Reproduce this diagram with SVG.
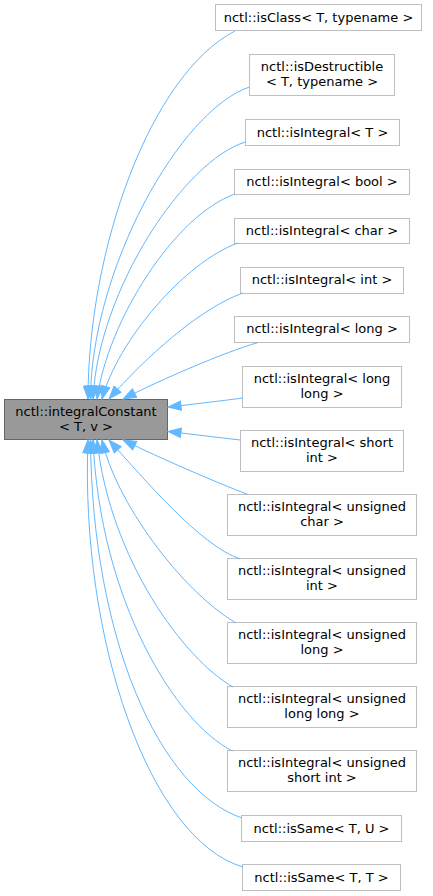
<svg xmlns="http://www.w3.org/2000/svg" width="433" height="896" viewBox="0 0 433 896">
<style>
.n rect{fill:#ffffff;stroke:#bfbfbf;stroke-width:1}
.m rect{fill:#999999;stroke:#666666;stroke-width:1}
text{font-family:"DejaVu Sans","Liberation Sans",sans-serif;font-size:13px;fill:#000000;text-anchor:middle}
.e path{fill:none;stroke:#63b8ff;stroke-width:1;marker-end:url(#ah)}
</style>
<defs>
<marker id="ah" markerUnits="userSpaceOnUse" markerWidth="16" markerHeight="12" refX="13.5" refY="5" orient="auto" overflow="visible">
<path d="M0.5,0.3 L13.5,5 L0.5,9.7 z" fill="#63b8ff" stroke="#63b8ff" stroke-width="1"/>
</marker>
</defs>
<rect width="433" height="896" fill="#ffffff"/>
<g id="node_main" class="m"><rect x="4.5" y="399.5" width="163" height="40"/><text x="86" y="415.8">nctl::integralConstant</text><text x="86" y="430.5">&lt; T, v &gt;</text></g>
<g id="node_isClass" class="n"><rect x="215.5" y="4.5" width="206" height="26"/><text x="318.5" y="21.5">nctl::isClass&lt; T, typename &gt;</text></g>
<g id="node_isDestructible" class="n"><rect x="249.5" y="54.5" width="145" height="41"/><text x="322" y="71.3">nctl::isDestructible</text><text x="322" y="86">&lt; T, typename &gt;</text></g>
<g id="node_isIntegral_T" class="n"><rect x="245.5" y="119.5" width="154" height="26"/><text x="322.5" y="136.5">nctl::isIntegral&lt; T &gt;</text></g>
<g id="node_isIntegral_bool" class="n"><rect x="234.5" y="169.5" width="175" height="25"/><text x="322" y="186">nctl::isIntegral&lt; bool &gt;</text></g>
<g id="node_isIntegral_char" class="n"><rect x="234.5" y="218.5" width="175" height="25"/><text x="322" y="235">nctl::isIntegral&lt; char &gt;</text></g>
<g id="node_isIntegral_int" class="n"><rect x="240.5" y="267.5" width="163" height="26"/><text x="322" y="284">nctl::isIntegral&lt; int &gt;</text></g>
<g id="node_isIntegral_long" class="n"><rect x="234.5" y="316.5" width="175" height="26"/><text x="322" y="333">nctl::isIntegral&lt; long &gt;</text></g>
<g id="node_isIntegral_longlong" class="n"><rect x="242.5" y="366.5" width="159" height="41"/><text x="322" y="383.3">nctl::isIntegral&lt; long</text><text x="322" y="398">long &gt;</text></g>
<g id="node_isIntegral_shortint" class="n"><rect x="240.5" y="430.5" width="163" height="41"/><text x="322" y="447.3">nctl::isIntegral&lt; short</text><text x="322" y="462">int &gt;</text></g>
<g id="node_isIntegral_uchar" class="n"><rect x="227.5" y="494.5" width="189" height="41"/><text x="322" y="511.3">nctl::isIntegral&lt; unsigned</text><text x="322" y="526">char &gt;</text></g>
<g id="node_isIntegral_uint" class="n"><rect x="227.5" y="558.5" width="189" height="41"/><text x="322" y="575.3">nctl::isIntegral&lt; unsigned</text><text x="322" y="590">int &gt;</text></g>
<g id="node_isIntegral_ulong" class="n"><rect x="227.5" y="622.5" width="189" height="41"/><text x="322" y="639.3">nctl::isIntegral&lt; unsigned</text><text x="322" y="654">long &gt;</text></g>
<g id="node_isIntegral_ulonglong" class="n"><rect x="227.5" y="686.5" width="189" height="41"/><text x="322" y="703.3">nctl::isIntegral&lt; unsigned</text><text x="322" y="718">long long &gt;</text></g>
<g id="node_isIntegral_ushortint" class="n"><rect x="227.5" y="750.5" width="189" height="41"/><text x="322" y="767.3">nctl::isIntegral&lt; unsigned</text><text x="322" y="782">short int &gt;</text></g>
<g id="node_isSame_TU" class="n"><rect x="241.5" y="815.5" width="160" height="26"/><text x="321.5" y="832.5">nctl::isSame&lt; T, U &gt;</text></g>
<g id="node_isSame_TT" class="n"><rect x="242.5" y="864.5" width="158" height="26"/><text x="321.5" y="881.5">nctl::isSame&lt; T, T &gt;</text></g>
<g id="edges" class="e">
<path d="M235,31 C150,75 88,250 88,399"/>
<path d="M249.5,87 C180,110 91,270 90.5,399"/>
<path d="M245.5,142 C185,160 98,290 93,399"/>
<path d="M235,194 C175,215 108,320 97,399"/>
<path d="M238,243 C185,262 118,340 102,399"/>
<path d="M243,293 C200,308 145,358 109,399"/>
<path d="M258,342.5 C225,352 160,380 123,399"/>
<path d="M243,398 C220,401 195,404 168,407"/>
<path d="M240.5,440 C218,437.5 195,434.5 168,431.5"/>
<path d="M248,494.5 C215,482 160,458 123,440"/>
<path d="M240,559 C200,545 145,480 109,440"/>
<path d="M236,623 C180,590 115,500 102,440"/>
<path d="M233,687 C185,660 110,560 97,440"/>
<path d="M232.5,751 C175,722 100,600 93,440"/>
<path d="M242,818 C160,790 92,640 90.5,440"/>
<path d="M243,867 C150,840 80,640 88,440"/>
</g>
</svg>
